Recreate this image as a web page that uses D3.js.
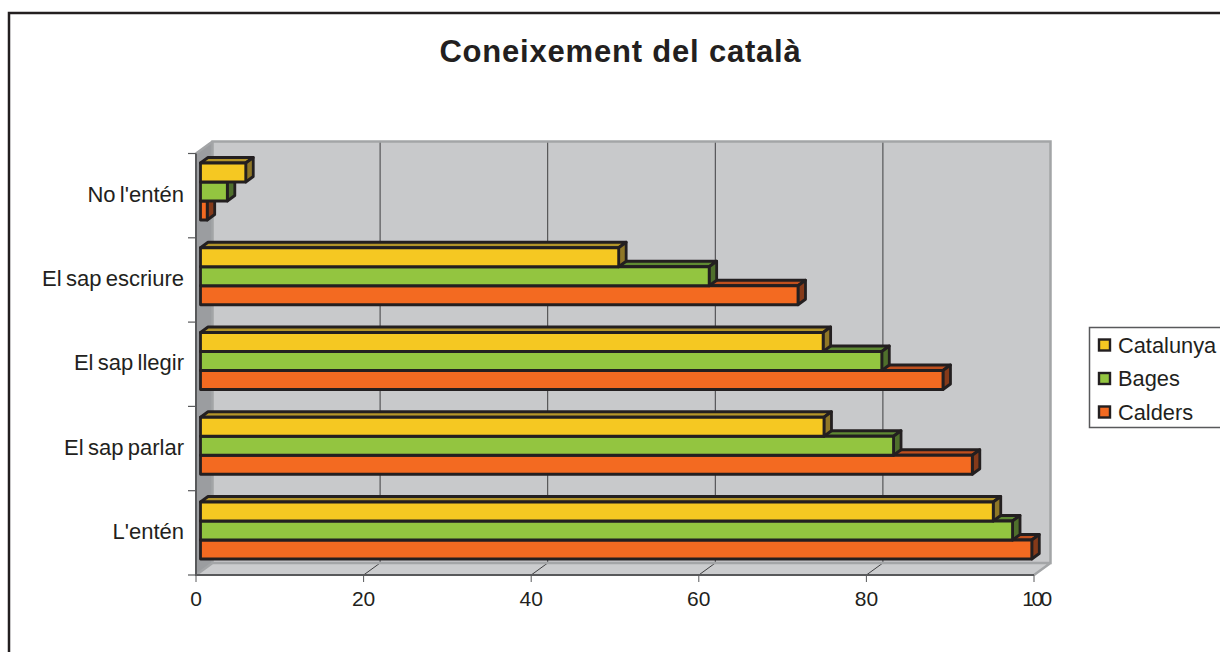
<!DOCTYPE html>
<html><head><meta charset="utf-8">
<script src="https://cdn.jsdelivr.net/npm/d3@7"></script>
<style>html,body{margin:0;padding:0;background:#fff}svg{display:block}text{font-family:"Liberation Sans",Arial,sans-serif}</style>
</head><body><svg id="c" width="1220" height="652"></svg>
<script>
const title = "Coneixement del català";
const categories = ["No l'entén","El sap escriure","El sap llegir","El sap parlar","L'entén"];
const seriesNames = ["Catalunya","Bages","Calders"];
const catalunya = [5.4,49.9,74.3,74.4,94.6];
const bages = [3.2,60.7,81.3,82.7,96.9];
const calders = [0.8,71.3,88.6,92.1,99.2];
const xTicks = [0,20,40,60,80,100];
const seriesValues = [catalunya,bages,calders];
const colors = ["#f5c822","#93c540","#f36a21"];
const topColors = ["#b3952a","#5f8a33","#c0501e"];
const sideColors = ["#8f7727","#4f6f2c","#853a1a"];

const svg = d3.select("#c");
const x = d3.scaleLinear().domain([0,100]).range([196,1034]);
const band = d3.scaleBand().domain(categories).range([153.5,575]);
const barTop = d3.scalePoint().domain(categories).range([163,502]);
const dx=16.5, dy=-12;
const barH=19;

svg.append("path").attr("d","M9,652V13H1220").attr("fill","none").attr("stroke","#231f20").attr("stroke-width",2.5);
svg.append("text").attr("x",620.5).attr("y",62).attr("text-anchor","middle").attr("font-size",31).attr("font-weight","bold").attr("fill","#231f20").attr("letter-spacing",0.8).text(title);

const x0=x(0),x1=x(100),yT=band.range()[0],yB=band.range()[1];
svg.append("rect").attr("x",x0+dx).attr("y",yT+dy).attr("width",x1-x0).attr("height",yB-yT).attr("fill","#c8c9cb");
svg.append("path").attr("d",`M${x0},${yB}L${x1},${yB}L${x1+dx},${yB+dy}L${x0+dx},${yB+dy}Z`).attr("fill","#cbccce");
svg.append("path").attr("d",`M${x0},${yT}L${x0+dx},${yT+dy}V${yB+dy}L${x0},${yB}Z`).attr("fill","#9b9da0");
xTicks.slice(1,-1).forEach(t=>{
  svg.append("line").attr("x1",x(t)+dx).attr("x2",x(t)+dx).attr("y1",yT+dy).attr("y2",yB+dy).attr("stroke","#3f3f41").attr("stroke-width",1);
  svg.append("line").attr("x1",x(t)).attr("x2",x(t)+dx).attr("y1",yB).attr("y2",yB+dy).attr("stroke","#3f3f41").attr("stroke-width",1);
});
svg.append("path").attr("d",`M${x0},${yB}L${x0+dx},${yB+dy}H${x1+dx}V${yT+dy}H${x0+dx}V${yB+dy}M${x0},${yT}L${x0+dx},${yT+dy}M${x1},${yB}L${x1+dx},${yB+dy}`).attr("fill","none").attr("stroke","#a3a5a7").attr("stroke-width",2.5);

const bx=4.5, depthX=7.5, depthY=-5.5;
[...categories].reverse().forEach(c=>{
  const i=categories.indexOf(c);
  seriesNames.map((s,j)=>j).reverse().forEach(j=>{
    const v=seriesValues[j][i];
    const X0=x0+bx, X1=x(v)+bx;
    const Y0=barTop(c)+j*barH, Y1=Y0+barH;
    const g=svg.append("g").attr("stroke","#231f20").attr("stroke-width",2.8).attr("stroke-linejoin","round");
    g.append("path").attr("d",`M${X0},${Y0}L${X0+depthX},${Y0+depthY}H${X1+depthX}L${X1},${Y0}Z`).attr("fill",topColors[j]);
    g.append("path").attr("d",`M${X1},${Y0}L${X1+depthX},${Y0+depthY}V${Y1+depthY}L${X1},${Y1}Z`).attr("fill",sideColors[j]);
    g.append("rect").attr("x",X0).attr("y",Y0).attr("width",X1-X0).attr("height",barH).attr("fill",colors[j]);
  });
});

const axisC="#58595b";
svg.append("path").attr("d",`M${x0},${yT}V${yB}H${x1}`).attr("fill","none").attr("stroke",axisC).attr("stroke-width",2);
xTicks.forEach(t=>{
  svg.append("line").attr("x1",x(t)).attr("x2",x(t)).attr("y1",yB).attr("y2",yB+7).attr("stroke",axisC).attr("stroke-width",1);
  svg.append("text").attr("x",x(t)+(t===100?2:0)).attr("y",yB+31).attr("text-anchor","middle").attr("font-size",21).attr("fill","#231f20").attr("letter-spacing",t===100?-2.5:0).text(t);
});
[...categories.map(c=>band(c)),yB].forEach(y=>{
  svg.append("line").attr("x1",x0-8).attr("x2",x0).attr("y1",y).attr("y2",y).attr("stroke",axisC).attr("stroke-width",1.2);
});
categories.forEach(c=>{
  svg.append("text").attr("x",184).attr("y",band(c)+band.bandwidth()/2+6).attr("text-anchor","end").attr("font-size",22).attr("word-spacing",-1.8).attr("fill","#231f20").text(c);
});

svg.append("path").attr("d","M1220,327.5H1089.5V427.5H1220").attr("fill","#fff").attr("stroke","#58595b").attr("stroke-width",1.5);
const ly=d3.scalePoint().domain(seriesNames).range([345,412]);
seriesNames.forEach((s,j)=>{
  svg.append("rect").attr("x",1099).attr("y",ly(s)-5.5).attr("width",11).attr("height",11).attr("fill",colors[j]).attr("stroke","#231f20").attr("stroke-width",2.4);
  svg.append("text").attr("x",1118).attr("y",ly(s)+7.5).attr("font-size",21.8).attr("fill","#231f20").text(s);
});
</script></body></html>
